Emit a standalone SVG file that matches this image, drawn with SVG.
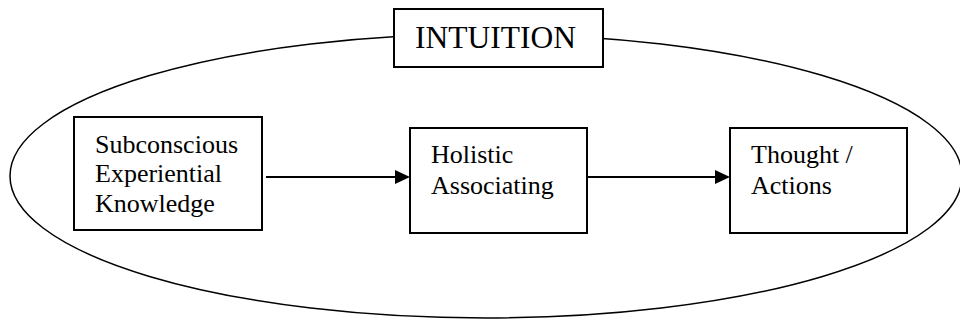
<svg xmlns="http://www.w3.org/2000/svg" width="960" height="321" viewBox="0 0 960 321">
<style>
.box{fill:#fff;stroke:#000;stroke-width:2}
.t{font-family:'Liberation Serif', 'DejaVu Serif', serif;font-size:26px;fill:#000}
.big{font-size:31.5px}
.edge{stroke:#000;stroke-width:2;fill:none}
</style>
<rect width="960" height="321" fill="#fff"/>
<g id="intuition-ellipse">
<ellipse cx="486" cy="176" rx="476" ry="142" fill="none" stroke="#000" stroke-width="1.5"/>
</g>
<g id="intuition">
<rect class="box" x="394" y="9" width="209" height="58"/>
<text class="t big" x="415" y="48">INTUITION</text>
</g>
<g id="subconscious">
<rect class="box" x="74" y="117" width="188" height="113"/>
<text class="t" x="95" y="153">Subconscious</text>
<text class="t" x="95" y="182">Experiential</text>
<text class="t" x="95" y="212">Knowledge</text>
</g>
<g id="holistic">
<rect class="box" x="410" y="128" width="177" height="105"/>
<text class="t" x="431" y="163">Holistic</text>
<text class="t" x="431" y="194">Associating</text>
</g>
<g id="thought">
<rect class="box" x="730" y="128" width="177" height="105"/>
<text class="t" x="751" y="163">Thought /</text>
<text class="t" x="751" y="194">Actions</text>
</g>
<g id="connectors">
<line class="edge" x1="266" y1="177" x2="396" y2="177"/>
<path d="M395,170 L410,177 L395,184 z" fill="#000"/>
<line class="edge" x1="587" y1="177" x2="716" y2="177"/>
<path d="M715,170 L730,177 L715,184 z" fill="#000"/>
</g>
</svg>
